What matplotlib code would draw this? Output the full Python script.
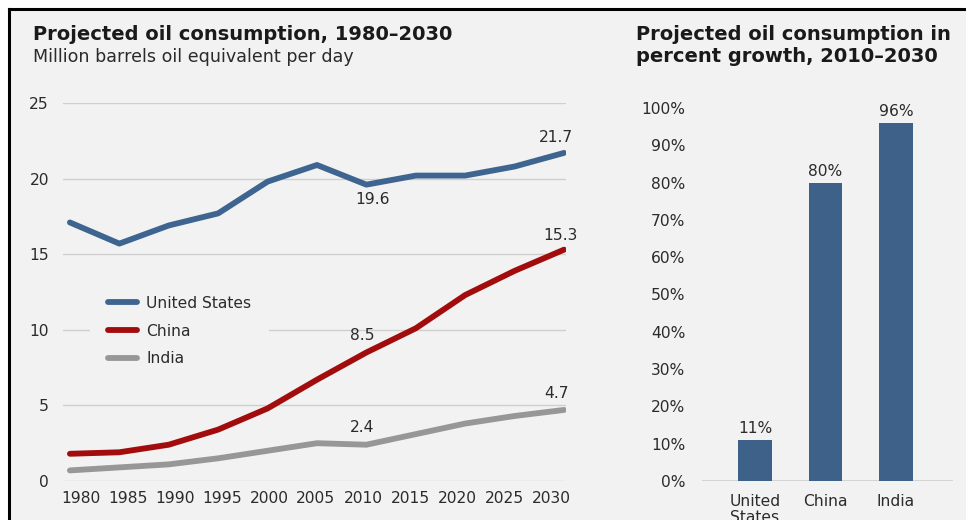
import matplotlib
matplotlib.use("Agg")
import matplotlib.pyplot as plt
from matplotlib.patches import Rectangle
from matplotlib.lines import Line2D
import numpy as np

plt.rcParams['font.family'] = ['DejaVu Sans']

# ---- data ----
years = [1980, 1985, 1990, 1995, 2000, 2005, 2010, 2015, 2020, 2025, 2030]
us = [17.1, 15.7, 16.9, 17.7, 19.8, 20.9, 19.6, 20.2, 20.2, 20.8, 21.7]
china = [1.8, 1.9, 2.4, 3.4, 4.8, 6.7, 8.5, 10.1, 12.3, 13.9, 15.3]
india = [0.7, 0.9, 1.1, 1.5, 2.0, 2.5, 2.4, 3.1, 3.8, 4.3, 4.7]

growth_countries = ["United\nStates", "China", "India"]
growth_pct = [11, 80, 96]

y_ticks_left = [0, 5, 10, 15, 20, 25]
y_ticks_right = list(range(0, 101, 10))

# ---- styling ----
BG = "#f2f2f2"
GRID = "#cfcfcf"
TXT = "#2b2b2b"
C_US = "#3e6590"
C_CN = "#a30c0c"
C_IN = "#979797"
C_BAR = "#3e6189"
FS = 11.2
TFS = 14

W, H = 966, 520
fig = plt.figure(figsize=(W / 100, H / 100), dpi=100)
fig.patch.set_facecolor("white")

# panel background with black frame on the top and left edges
fig.add_artist(Rectangle((10 / W, 0), 1, 1 - 10 / H, transform=fig.transFigure,
                         facecolor=BG, edgecolor="none", zorder=-10))
fig.add_artist(Line2D([9 / W, 9 / W], [0, 1 - 9 / H], transform=fig.transFigure,
                      color="black", lw=2.2, solid_capstyle="projecting"))
fig.add_artist(Line2D([9 / W, 1], [1 - 9 / H, 1 - 9 / H], transform=fig.transFigure,
                      color="black", lw=2.2, solid_capstyle="projecting"))


def px_axes(x0, y_top, x1, y_bot):
    return fig.add_axes([x0 / W, 1 - y_bot / H, (x1 - x0) / W, (y_bot - y_top) / H])


# ---- left: line chart ----
ax = px_axes(63, 103, 566, 481)
ax.set_facecolor("none")
ax.set_xlim(1979.3, 2030.2)
ax.set_ylim(0, 25)
for s in ax.spines.values():
    s.set_visible(False)
ax.set_yticks(y_ticks_left)
ax.yaxis.grid(True, color=GRID, lw=1.0)
ax.set_axisbelow(True)
ax.tick_params(axis="both", length=0, colors=TXT, labelsize=FS)
ax.tick_params(axis="y", pad=10)
ax.tick_params(axis="x", pad=7)
ax.set_xticks(np.linspace(1981.1, 2028.7, len(years)))
ax.set_xticklabels([str(y) for y in years])

lw = 4.2
ax.plot(years, us, color=C_US, lw=lw, solid_capstyle="round", solid_joinstyle="round",
        label="United States", zorder=3)
ax.plot(years, china, color=C_CN, lw=lw, solid_capstyle="round", solid_joinstyle="round",
        label="China", zorder=3)
ax.plot(years, india, color=C_IN, lw=lw, solid_capstyle="round", solid_joinstyle="round",
        label="India", zorder=3)

def note(x, y, dx, dy):
    ax.annotate(f"{y}", (x, y), xytext=(dx, dy), textcoords="offset pixels",
                ha="center", va="center", fontsize=FS, color=TXT)

i10 = years.index(2010)
note(2010, us[i10], 6, -15)
note(2010, china[i10], -4, 17)
note(2010, india[i10], -4, 17)
note(2030, us[-1], -8, 15)
note(2030, china[-1], -4, 14)
note(2030, india[-1], -7, 16)

leg = ax.legend(loc="upper left", bbox_to_anchor=(0.0537, 0.537), borderaxespad=0,
                frameon=True, facecolor=BG, edgecolor="none", framealpha=1,
                fontsize=FS, handlelength=1.9, handletextpad=0.57,
                labelspacing=0.82, borderpad=1.15, fancybox=False)
leg.get_frame().set_linewidth(0)
for t in leg.get_texts():
    t.set_color(TXT)
leg.set_zorder(2)

fig.text(33 / W, 1 - 34 / H, "Projected oil consumption, 1980\u20132030",
         fontsize=TFS, fontweight="bold", color="#1a1a1a", va="center", ha="left")
fig.text(33 / W, 1 - 57 / H, "Million barrels oil equivalent per day",
         fontsize=12.6, color=TXT, va="center", ha="left")

# ---- right: bar chart ----
bx = px_axes(702, 108, 953, 481)
bx.set_facecolor("none")
pos = np.arange(len(growth_pct))
bars = bx.bar(pos, growth_pct, width=0.48, color=C_BAR, zorder=3)
bx.set_xlim(-0.752, 2.81)
bx.set_ylim(0, 100)
for s in bx.spines.values():
    s.set_visible(False)
bx.axhline(0, color=GRID, lw=1.2, zorder=2)
bx.set_yticks(y_ticks_right)
bx.set_yticklabels([f"{v}%" for v in y_ticks_right])
bx.set_xticks(pos)
bx.set_xticklabels(growth_countries, linespacing=1.1)
bx.tick_params(axis="both", length=0, colors=TXT, labelsize=FS)
bx.tick_params(axis="y", pad=12)
bx.tick_params(axis="x", pad=9)
for b, v in zip(bars, growth_pct):
    bx.annotate(f"{v}%", (b.get_x() + b.get_width() / 2, v), xytext=(0, 4),
                textcoords="offset pixels", ha="center", va="bottom",
                fontsize=FS, color=TXT)

fig.text(636 / W, 1 - 34 / H, "Projected oil consumption in",
         fontsize=TFS, fontweight="bold", color="#1a1a1a", va="center", ha="left")
fig.text(636 / W, 1 - 56 / H, "percent growth, 2010\u20132030",
         fontsize=TFS, fontweight="bold", color="#1a1a1a", va="center", ha="left")

fig.savefig("out.png", dpi=100, facecolor=fig.get_facecolor())
